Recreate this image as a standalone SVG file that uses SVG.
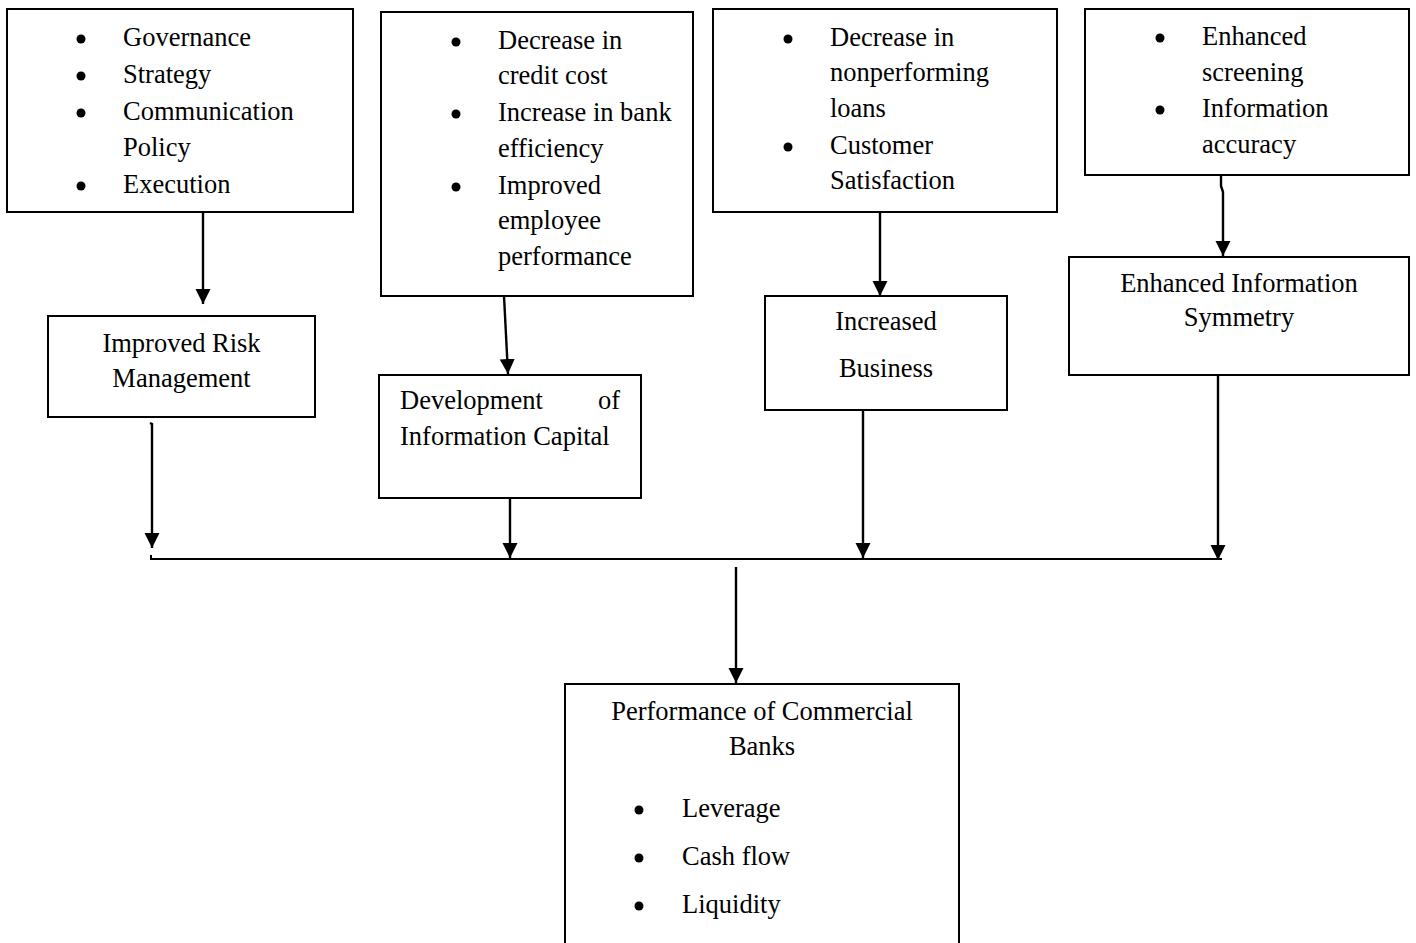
<svg xmlns="http://www.w3.org/2000/svg" width="1416" height="943" viewBox="0 0 1416 943">
<style>
.box{fill:#fff;stroke:#000;stroke-width:2}
.t{font-family:"Liberation Serif","Times New Roman",serif;font-size:26.5px;fill:#000}
.c{text-anchor:middle}
.e{text-anchor:end}
.dot{fill:#000}
.ln{fill:none;stroke:#000;stroke-width:2.4}
</style>
<defs>
<marker id="ah" markerUnits="userSpaceOnUse" markerWidth="16" markerHeight="16" refX="15" refY="7.5" orient="auto">
<path d="M0,0 L15,7.5 L0,15 z" fill="#000"/>
</marker>
</defs>
<rect width="1416" height="943" fill="#fff"/>

<g id="connectors">
<line class="ln" x1="203" y1="213" x2="203" y2="304" marker-end="url(#ah)"/>
<line class="ln" x1="504" y1="296" x2="508" y2="374" marker-end="url(#ah)"/>
<line class="ln" x1="880" y1="212" x2="880" y2="296" marker-end="url(#ah)"/>
<path class="ln" d="M1221,175 L1221,186 L1223,192 L1223,256" marker-end="url(#ah)"/>
<path class="ln" d="M150,423 L152,424 L152,548" marker-end="url(#ah)"/>
<line class="ln" x1="510" y1="491" x2="510" y2="558" marker-end="url(#ah)"/>
<line class="ln" x1="863" y1="411" x2="863" y2="558" marker-end="url(#ah)"/>
<line class="ln" x1="1218" y1="371" x2="1218" y2="560" marker-end="url(#ah)"/>
<path class="ln" d="M151,555 L151,559 L1222,559" style="stroke-width:2"/>
<line class="ln" x1="736" y1="567" x2="736" y2="683" marker-end="url(#ah)"/>
</g>

<g id="node-governance">
<rect class="box" x="7" y="9" width="346" height="203"/>
<circle class="dot" cx="81" cy="39" r="4.5"/>
<circle class="dot" cx="81" cy="76" r="4.5"/>
<circle class="dot" cx="81" cy="113" r="4.5"/>
<circle class="dot" cx="81" cy="186" r="4.5"/>
<text class="t" x="123" y="46">Governance</text>
<text class="t" x="123" y="83">Strategy</text>
<text class="t" x="123" y="120">Communication</text>
<text class="t" x="123" y="156">Policy</text>
<text class="t" x="123" y="193">Execution</text>
</g>

<g id="node-credit">
<rect class="box" x="381" y="12" width="312" height="284"/>
<circle class="dot" cx="456" cy="42" r="4.5"/>
<circle class="dot" cx="456" cy="114" r="4.5"/>
<circle class="dot" cx="456" cy="187" r="4.5"/>
<text class="t" x="498" y="49">Decrease in</text>
<text class="t" x="498" y="84">credit cost</text>
<text class="t" x="498" y="121">Increase in bank</text>
<text class="t" x="498" y="157">efficiency</text>
<text class="t" x="498" y="194">Improved</text>
<text class="t" x="498" y="229">employee</text>
<text class="t" x="498" y="265">performance</text>
</g>

<g id="node-loans">
<rect class="box" x="713" y="9" width="344" height="203"/>
<circle class="dot" cx="788" cy="39" r="4.5"/>
<circle class="dot" cx="788" cy="147" r="4.5"/>
<text class="t" x="830" y="46">Decrease in</text>
<text class="t" x="830" y="81">nonperforming</text>
<text class="t" x="830" y="117">loans</text>
<text class="t" x="830" y="154">Customer</text>
<text class="t" x="830" y="189">Satisfaction</text>
</g>

<g id="node-screening">
<rect class="box" x="1085" y="9" width="324" height="166"/>
<circle class="dot" cx="1160" cy="38" r="4.5"/>
<circle class="dot" cx="1160" cy="110" r="4.5"/>
<text class="t" x="1202" y="45">Enhanced</text>
<text class="t" x="1202" y="81">screening</text>
<text class="t" x="1202" y="117">Information</text>
<text class="t" x="1202" y="153">accuracy</text>
</g>

<g id="node-risk">
<rect class="box" x="48" y="316" width="267" height="101"/>
<text class="t c" x="181.5" y="352">Improved Risk</text>
<text class="t c" x="181.5" y="387">Management</text>
</g>

<g id="node-infocapital">
<rect class="box" x="379" y="375" width="262" height="123"/>
<text class="t" x="400" y="409">Development</text>
<text class="t e" x="620" y="409">of</text>
<text class="t" x="400" y="445">Information Capital</text>
</g>

<g id="node-business">
<rect class="box" x="765" y="296" width="242" height="114"/>
<text class="t c" x="886" y="330">Increased</text>
<text class="t c" x="886" y="377">Business</text>
</g>

<g id="node-symmetry">
<rect class="box" x="1069" y="257" width="340" height="118"/>
<text class="t c" x="1239" y="292">Enhanced Information</text>
<text class="t c" x="1239" y="326">Symmetry</text>
</g>

<g id="node-performance">
<rect class="box" x="565" y="684" width="394" height="270"/>
<text class="t c" x="762" y="720">Performance of Commercial</text>
<text class="t c" x="762" y="755">Banks</text>
<circle class="dot" cx="639" cy="810" r="4.5"/>
<circle class="dot" cx="639" cy="858" r="4.5"/>
<circle class="dot" cx="639" cy="906" r="4.5"/>
<text class="t" x="682" y="817">Leverage</text>
<text class="t" x="682" y="865">Cash flow</text>
<text class="t" x="682" y="913">Liquidity</text>
</g>
</svg>
